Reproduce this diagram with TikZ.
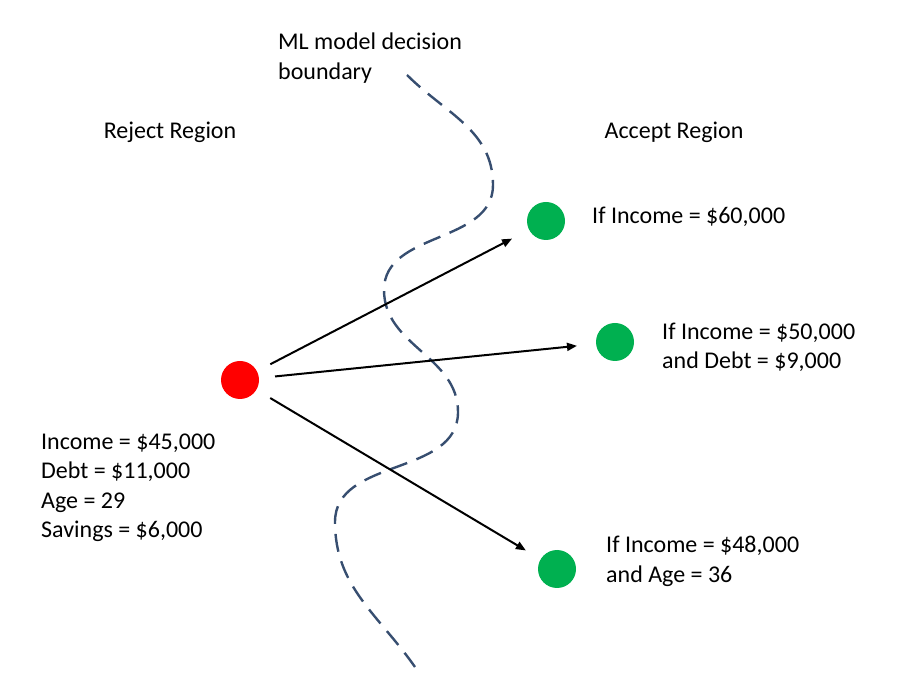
\documentclass[tikz,border=0pt]{standalone}
\usepackage{fontspec}
\setmainfont{Carlito}
\usetikzlibrary{arrows.meta}
\definecolor{bnd}{RGB}{55,78,112}
\definecolor{okgreen}{RGB}{0,176,80}
\tikzset{
  txt/.style={inner sep=0pt, align=left, font=\fontsize{24}{29.5}\selectfont},
  dot/.style={circle, minimum size=38pt, inner sep=0pt},
  arr/.style={line width=2pt, -{Triangle[length=10pt,width=8pt]}},
  boundary/.style={bnd, line width=2.4pt, dash pattern=on 18pt off 10pt}
}
\begin{document}
\begin{tikzpicture}[x=1pt,y=1pt]
\useasboundingbox (0,0) rectangle (899,688);
% boundary curve
\coordinate (p0) at (407,613);
\coordinate (p1) at (493,503);
\coordinate (p2) at (384,398);
\coordinate (p3) at (458,276);
\coordinate (p4) at (335,166);
\coordinate (p5) at (415,21);
\draw[boundary] (p0) to[out=-45,in=90] (p1) to[out=-90,in=90] (p2)
  to[out=-90,in=90] (p3) to[out=-90,in=90] (p4) to[out=-90,in=125] (p5);
% circles
\node[dot, fill=red] (red) at (240,308) {};
\node[dot, fill=okgreen] (g1) at (546,467) {};
\node[dot, fill=okgreen] (g2) at (615,346) {};
\node[dot, fill=okgreen] (g3) at (557,119) {};
% arrows
\draw[arr, shorten <=15pt, shorten >=19pt] (red) -- (g1);
\draw[arr, shorten <=16pt, shorten >=19pt] (red) -- (g2);
\draw[arr, shorten <=16pt, shorten >=17pt] (red) -- (g3);
% labels
\node[txt, anchor=west] (ml) at (278,630) {ML model decision\\boundary};
\node[txt] (rej) at (170,556) {Reject Region};
\node[txt] (acc) at (674,556) {Accept Region};
\node[txt, anchor=west] (t1) at (592,471) {If Income = \$60,000};
\node[txt, anchor=west] (t2) at (662,340.5) {If Income = \$50,000\\and Debt = \$9,000};
\node[txt, anchor=west] (t3) at (606,126.5) {If Income = \$48,000\\and Age = 36};
\node[txt, anchor=west] (info) at (41,200) {Income = \$45,000\\Debt = \$11,000\\Age = 29\\Savings = \$6,000};
\end{tikzpicture}
\end{document}
